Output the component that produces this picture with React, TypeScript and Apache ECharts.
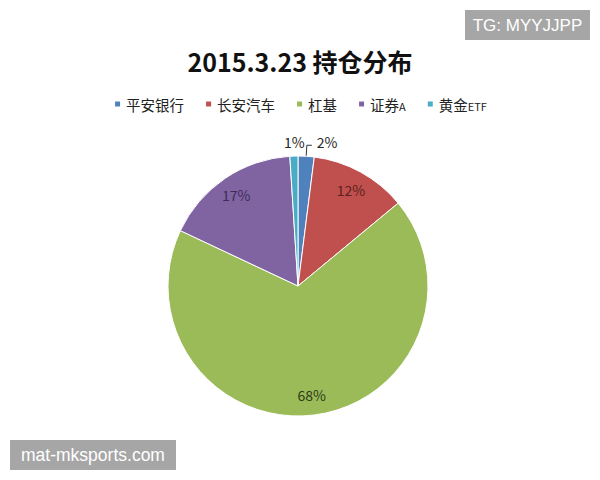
import React, { useEffect, useRef } from 'react';
import * as echarts from 'echarts';

const titleText = '2015.3.23 持仓分布';
const categories = ['平安银行', '长安汽车', '杠基', '证券A', '黄金ETF'];
const percents = [2, 12, 68, 17, 1];
const sliceColors = ['#4f81bd', '#c0504d', '#9bbb59', '#8064a2', '#4bacc6'];
const labelColors = ['#262626', '#5c1f1d', '#2c3a14', '#3b2d57', '#262626'];
const outsideLabels = [true, false, false, false, true];
const watermarkTop = 'TG: MYYJJPP';
const watermarkBottom = 'mat-mksports.com';

const font = "'Noto Sans CJK SC', 'Noto Sans', sans-serif";
const latinFont = "'Liberation Sans', Arial, sans-serif";

export default function App() {
  const ref = useRef<HTMLDivElement>(null);
  useEffect(() => {
    if (!ref.current) return;
    const chart = echarts.init(ref.current, undefined, { renderer: 'svg' });
    const center = [298, 286];
    const R = 130;
    const option: any = {
      animation: false,
      backgroundColor: '#ffffff',
      textStyle: { fontFamily: font },
      title: {
        text: titleText,
        left: 'center',
        top: 48,
        padding: 0,
        textStyle: { fontSize: 25, fontWeight: 'bold', color: '#111', fontFamily: font },
      },
      legend: {
        top: 95,
        left: 'center',
        padding: 0,
        itemWidth: 7,
        itemHeight: 7,
        itemGap: 20,
        icon: 'rect',
        data: categories,
        formatter: (name: string) =>
          name.replace(/([^A-Za-z]+)/g, '{c|$1}').replace(/([A-Za-z]+)(?![^{]*\|)/g, '{l|$1}'),
        textStyle: {
          fontSize: 14.5,
          color: '#222',
          fontFamily: font,
          lineHeight: 18,
          rich: {
            c: { fontSize: 14.5, color: '#222', fontFamily: font, lineHeight: 18, verticalAlign: 'middle' },
            l: {
              fontSize: 11, color: '#222', fontFamily: font, lineHeight: 16,
              verticalAlign: 'middle', padding: [3, 0, 0, 0],
            },
          },
        },
      },
      series: [
        {
          type: 'pie',
          name: 'main',
          center,
          radius: R,
          startAngle: 90,
          clockwise: true,
          avoidLabelOverlap: false,
          silent: true,
          itemStyle: { borderColor: '#ffffff', borderWidth: 1 },
          label: { formatter: (p: any) => `${p.value}%`, fontSize: 14, fontFamily: font },
          labelLayout: (p: any) => (p.dataIndex === 4 ? { dx: 21, dy: -3 } : { dy: -3 }),
          data: categories.map((name, i) => ({
            name,
            value: percents[i],
            itemStyle: { color: sliceColors[i] },
            label: { show: outsideLabels[i], position: 'outside', color: labelColors[i] },
            labelLine: {
              show: i === 0,
              length: 11,
              length2: 5,
              lineStyle: { color: '#333', width: 1 },
            },
          })),
        },
        {
          type: 'pie',
          name: 'labels',
          center,
          radius: [84, R],
          startAngle: 90,
          clockwise: true,
          silent: true,
          itemStyle: { color: 'transparent', borderWidth: 0 },
          label: { formatter: (p: any) => `${p.value}%`, fontSize: 14, fontFamily: font },
          labelLine: { show: false },
          data: categories.map((name, i) => ({
            name,
            value: percents[i],
            itemStyle: { color: 'transparent' },
            label: { show: !outsideLabels[i], position: 'inside', color: labelColors[i] },
          })),
        },
      ],
      graphic: [
        { type: 'rect', shape: { x: 465, y: 10, width: 125, height: 30 }, style: { fill: '#a6a6a6' } },
        {
          type: 'text',
          style: {
            text: watermarkTop, x: 527.5, y: 25, align: 'center', verticalAlign: 'middle',
            fill: '#ffffff', fontSize: 17, fontFamily: latinFont,
          },
        },
        { type: 'rect', shape: { x: 10, y: 440, width: 166, height: 30 }, style: { fill: '#a6a6a6' } },
        {
          type: 'text',
          style: {
            text: watermarkBottom, x: 93, y: 455, align: 'center', verticalAlign: 'middle',
            fill: '#ffffff', fontSize: 17.5, fontFamily: latinFont,
          },
        },
      ],
    };
    chart.setOption(option);
    return () => chart.dispose();
  }, []);
  return (
    <div
      ref={ref}
      style={{ position: 'fixed', left: 0, top: 0, width: 600, height: 480, background: '#fff' }}
    />
  );
}
